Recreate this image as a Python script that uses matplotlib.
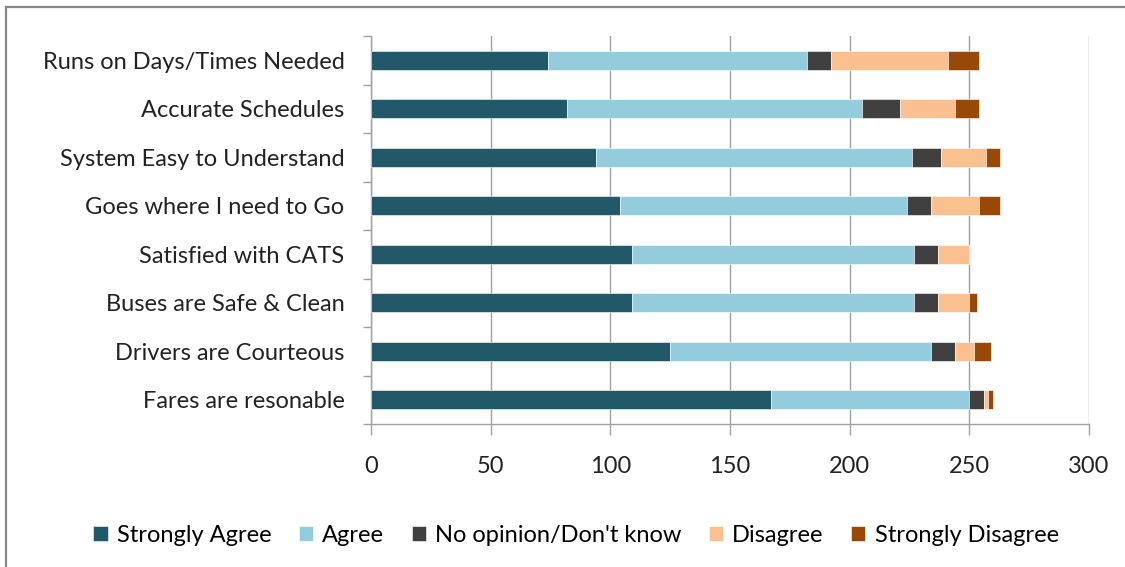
import matplotlib.pyplot as plt
import matplotlib.patches as mpatches
import numpy as np

plt.rcParams['font.family'] = ['Lato', 'DejaVu Sans']

# categories bottom to top
categories = ['Fares are resonable', 'Drivers are Courteous', 'Buses are Safe & Clean',
              'Satisfied with CATS', 'Goes where I need to Go', 'System Easy to Understand',
              'Accurate Schedules', 'Runs on Days/Times Needed']

strongly_agree = [167, 125, 109, 109, 104, 94, 82, 74]
agree = [83, 109, 118, 118, 120, 132, 123, 108]
no_opinion = [6, 10, 10, 10, 10, 12, 16, 10]
disagree = [2, 8, 13, 13, 20, 19, 23, 49]
strongly_disagree = [2, 7, 3, 0, 9, 6, 10, 13]

series_names = ['Strongly Agree', 'Agree', "No opinion/Don't know", 'Disagree', 'Strongly Disagree']
colors = ['#215968', '#93CDDD', '#404040', '#FAC090', '#984807']
x_ticks = [0, 50, 100, 150, 200, 250, 300]

fig = plt.figure(figsize=(11.25, 5.67), dpi=100)
ax = fig.add_axes([371/1125, 1-424/567, (1089-371)/1125, (424-36)/567])

y = np.arange(len(categories))
left = np.zeros(len(categories))
handles = []
for vals, name, c in zip([strongly_agree, agree, no_opinion, disagree, strongly_disagree],
                         series_names, colors):
    b = ax.barh(y, vals, left=left, height=0.4, color=c, edgecolor='white',
                linewidth=0.4, label=name, zorder=3)
    handles.append(b)
    left += np.array(vals)

ax.set_xlim(0, 300)
ax.set_ylim(-0.5, len(categories) - 0.5)
ax.set_xticks(x_ticks)
ax.set_xticklabels([str(t) for t in x_ticks], fontsize=17, color='#222222')
ax.set_yticks(y)
ax.set_yticklabels(categories, fontsize=17, color='#222222')
ax.tick_params(axis='y', which='major', length=0, pad=19)
ax.set_yticks(np.arange(-0.5, len(categories), 1), minor=True)
ax.tick_params(axis='y', which='minor', length=6, color='#A0A0A0', width=1)
ax.tick_params(axis='x', length=8, color='#A0A0A0', width=1, pad=15)
ax.grid(axis='x', color='#A0A0A0', linewidth=1, zorder=0)

for s in ['top', 'right']:
    ax.spines[s].set_visible(False)
for s in ['left', 'bottom']:
    ax.spines[s].set_color('#A0A0A0')
    ax.spines[s].set_linewidth(1)

fig.legend(handles=handles, loc='center', bbox_to_anchor=(0.512, 1-535/567), ncol=5,
           frameon=False, fontsize=17, handlelength=0.6, handleheight=0.6,
           handletextpad=0.4, columnspacing=1.15)

border = mpatches.Rectangle((6/1125, -0.2), 1.2, 1.2 - 7/567, transform=fig.transFigure,
                            fill=False, edgecolor='#888888', linewidth=1.6)
fig.patches.append(border)

fig.savefig('out.png', dpi=100)
